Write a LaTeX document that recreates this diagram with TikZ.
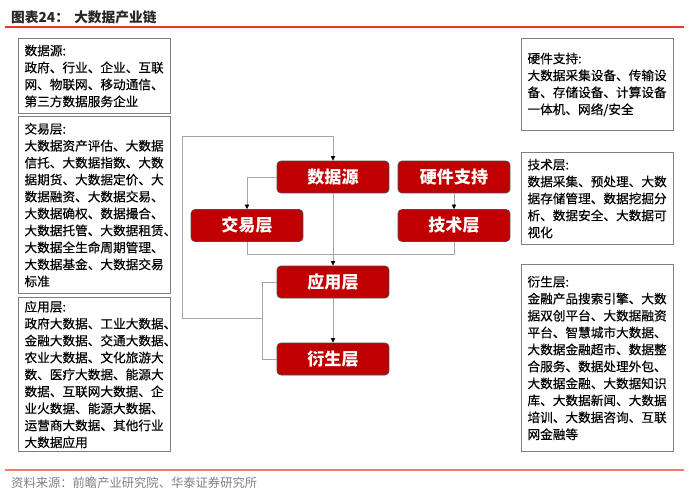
\documentclass[tikz,border=0pt]{standalone}
\usepackage{fontspec}
\setmainfont{Noto Sans CJK SC}
\newfontfamily\bodyfont[FakeBold=0.35]{Noto Sans CJK SC}
\usetikzlibrary{arrows.meta}
\definecolor{hsred}{HTML}{C00000}
\definecolor{topred}{HTML}{E8372B}
\definecolor{footred}{HTML}{F27B6B}
\definecolor{linkgray}{HTML}{A6A6A6}
\definecolor{boxgray}{HTML}{7F7F7F}
\tikzset{
  layer/.style={draw=black!70, fill=hsred, rounded corners=0.08cm, minimum width=2.24cm,
    minimum height=0.64cm, inner sep=0pt, text=white, font=\fontsize{9.7}{11}\selectfont\bfseries},
  infobox/.style={draw=boxgray, line width=0.6pt, anchor=north west, text width=2.8cm,
    inner xsep=0.12cm, inner ysep=0pt, minimum width=3.04cm, align=left,
    font=\bodyfont\fontsize{7.2}{9.65}\selectfont},
  link/.style={draw=linkgray, line width=0.45pt},
  arr/.style={-{Triangle[length=2.6pt,width=2.4pt,color=black]}}
}
\begin{document}
\begin{tikzpicture}[x=0.02cm,y=-0.02cm]
  \useasboundingbox (0,0) rectangle (700,497);

  % 标题
  \node[anchor=west, font=\fontsize{7.8}{9}\selectfont\bfseries, text=black!85] (title) at (5,17)
    {图表24：\hspace{3pt}大数据产业链};
  \draw[topred, line width=0.8pt] (5,27) -- (684,27);

  % 左侧说明
  \node[infobox, minimum height=1.5cm] (srcinfo) at (18,38)
    {数据源:\\政府、行业、企业、互联\\网、物联网、移动通信、\\第三方数据服务企业};
  \node[infobox, minimum height=3.54cm] (tradeinfo) at (18,116)
    {交易层:\\大数据资产评估、大数据\\信托、大数据指数、大数\\据期货、大数据定价、大\\数据融资、大数据交易、\\大数据确权、数据撮合、\\大数据托管、大数据租赁、\\大数据全生命周期管理、\\大数据基金、大数据交易\\标准};
  \node[infobox, minimum height=3.08cm] (appinfo) at (18,297)
    {应用层:\\政府大数据、工业大数据、\\金融大数据、交通大数据、\\农业大数据、文化旅游大\\数、医疗大数据、能源大\\数据、互联网大数据、企\\业火数据、能源大数据、\\运营商大数据、其他行业\\大数据应用};

  % 右侧说明
  \node[infobox, minimum height=1.84cm] (hwinfo) at (521,38)
    {硬件支持:\\大数据采集设备、传输设\\备、存储设备、计算设备\\一体机、网络/安全};
  \node[infobox, minimum height=1.84cm] (techinfo) at (521,152)
    {技术层:\\数据采集、预处理、大数\\据存储管理、数据挖掘分\\析、数据安全、大数据可\\视化};
  \node[infobox, minimum height=3.74cm] (derinfo) at (521,264)
    {衍生层:\\金融产品搜索引擎、大数\\据双创平台、大数据融资\\平台、智慧城市大数据、\\大数据金融超市、数据整\\合服务、数据处理外包、\\大数据金融、大数据知识\\库、大数据新闻、大数据\\培训、大数据咨询、互联\\网金融等};

  % 产业链各层
  \node[layer] (src) at (333,177) {数据源};
  \node[layer] (hw) at (454,177) {硬件支持};
  \node[layer] (trade) at (247,225.5) {交易层};
  \node[layer] (tech) at (454,225.5) {技术层};
  \node[layer] (app) at (333,282) {应用层};
  \node[layer] (der) at (333,359) {衍生层};

  % 连线
  \draw[link, arr] (src.west) -| (trade.north);
  \draw[link, arr] (src.south) -- (app.north);
  \draw[link, arr] (hw.south) -- (tech.north);
  \draw[link] (trade.south) -- ++(0,13) -| (tech.south);
  \draw[link, arr] (app.south) -- (der.north);
  \draw[link] (app.west) -- ++(-14,0) |- (der.west);
  \coordinate (loopjoin) at (263,318);
  \coordinate (loopcorner) at (182,136);
  \draw[link, arr] (loopjoin) -| (loopcorner) -| (src.north);

  % 资料来源
  \draw[footred, line width=0.8pt] (5,470) -- (684,470);
  \node[anchor=west, font=\fontsize{7}{8}\selectfont, text=black!50] (source) at (5,483)
    {资料来源：前瞻产业研究院、华泰证券研究所};
\end{tikzpicture}
\end{document}
